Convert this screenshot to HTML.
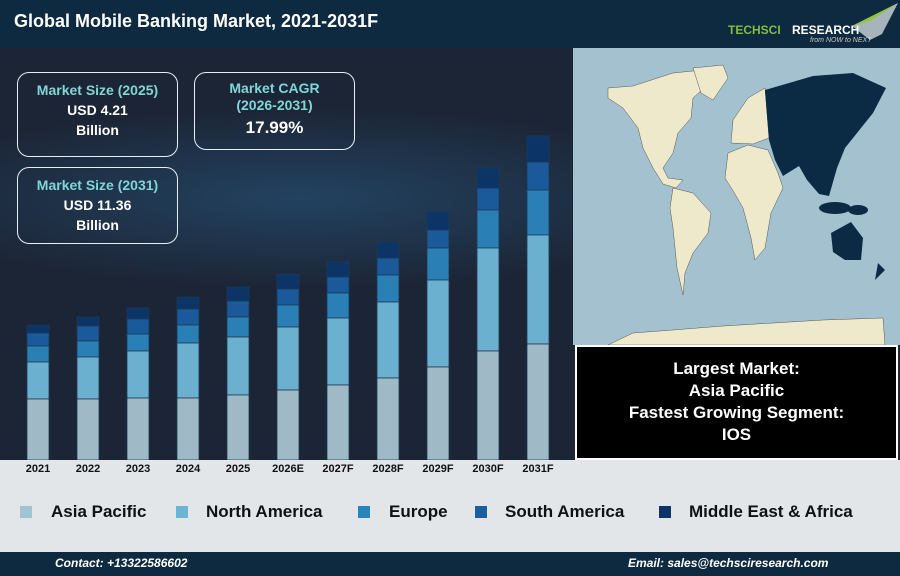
<!DOCTYPE html>
<html><head><meta charset="utf-8"><style>
*{margin:0;padding:0;box-sizing:border-box}
body{width:900px;height:576px;overflow:hidden;font-family:"Liberation Sans",sans-serif;background:#1c2536;position:relative}
.hdr{position:absolute;left:0;top:0;width:900px;height:48px;background:#0e2a40}
.title{position:absolute;left:14px;top:11px;color:#fff;font-weight:bold;font-size:18px}
.left{position:absolute;left:0;top:48px;width:572px;height:412px;background:radial-gradient(ellipse 420px 90px at 300px 150px,rgba(40,90,130,.55),rgba(28,37,54,0)),#1c2536}
.box{position:absolute;border:1.5px solid #e8eef2;border-radius:12px;text-align:center;font-weight:bold;color:#fff;font-size:14px;line-height:20px}
.box .t{color:#7fd6d8;font-size:14px}
.legend{position:absolute;left:0;top:460px;width:900px;height:92px;background:#e2e6e8}
.li{position:absolute;top:502px;font-weight:bold;font-size:17px;color:#111}
.sw{position:absolute;top:506px;width:12px;height:12px}
.foot{position:absolute;left:0;top:552px;width:900px;height:24px;background:#0e2a40;color:#fff;font-style:italic;font-weight:bold;font-size:12px}
.info{position:absolute;left:575px;top:345px;width:323px;height:115px;background:#000;border:2px solid #fff;color:#fff;text-align:center;font-weight:bold;font-size:17px;line-height:22px;padding-top:11px}
</style></head><body>
<div class="hdr"><div class="title">Global Mobile Banking Market, 2021-2031F</div>
<svg style="position:absolute;left:720px;top:0" width="180" height="48">
<polygon points="132,26 178,3 162,34 150,40" fill="#a8b4bc"/><polygon points="130,27 178,3 152,20" fill="#8fc63f"/>
<text x="8" y="34" font-family="Liberation Sans" font-weight="bold" font-size="12" fill="#7fbf3f">TECHSCI</text>
<text x="72" y="34" font-family="Liberation Sans" font-weight="bold" font-size="12" fill="#fff">RESEARCH</text>
<text x="90" y="42" font-family="Liberation Sans" font-style="italic" font-size="7" fill="#ccc">from NOW to NEXT</text></svg></div>
<div class="left"></div>
<div class="box" style="left:17px;top:72px;width:161px;height:85px;padding-top:7px"><div class="t">Market Size (2025)</div>USD 4.21<br>Billion</div>
<div class="box" style="left:194px;top:72px;width:161px;height:78px;padding-top:7px;line-height:17px"><div class="t">Market CAGR<br>(2026-2031)</div><div style="font-size:17px;margin-top:5px">17.99%</div></div>
<div class="box" style="left:17px;top:167px;width:161px;height:77px;padding-top:7px"><div class="t">Market Size (2031)</div>USD 11.36<br>Billion</div>
<svg style="position:absolute;left:0;top:0" width="572" height="476" id="b2"></svg>
<svg style="position:absolute;left:573px;top:48px" width="327" height="297">
<rect width="327" height="297" fill="#a3c1cf"/>
<g fill="#efe9cc" stroke="#555" stroke-width="0.5">
<polygon points="35,40 60,38 100,25 130,22 140,32 120,50 118,70 105,85 100,105 90,120 95,130 110,132 103,140 90,136 80,120 70,100 65,80 50,60 35,50"/>
<polygon points="120,20 150,17 155,30 140,52 128,45"/>
<polygon points="100,140 120,145 138,165 135,185 120,205 112,225 110,247 104,220 100,180 97,160"/>
<polygon points="158,95 160,72 175,50 192,40 196,90 180,96"/>
<polygon points="155,105 175,97 195,102 205,125 210,140 198,165 192,200 182,212 178,190 170,160 162,146 152,130"/>
<polygon points="35,297 60,285 100,282 150,278 200,275 250,272 310,270 312,297"/>
</g>
<g fill="#0b2b45">
<polygon points="192,42 240,28 280,25 313,40 300,65 288,80 272,100 264,120 256,148 246,146 234,132 226,118 210,128 202,112 196,92"/>
<polygon points="258,185 278,174 290,190 288,212 272,212 260,204"/>
<ellipse cx="262" cy="160" rx="16" ry="6"/><ellipse cx="285" cy="162" rx="10" ry="5"/><polygon points="305,215 312,222 302,232"/>
</g></svg>
<div class="info">Largest Market:<br>Asia Pacific<br>Fastest Growing Segment:<br>IOS</div>
<div class="legend"></div>
<svg style="position:absolute;left:0;top:460px" width="572" height="16">
<g font-family="Liberation Sans" font-weight="bold" font-size="11" fill="#111" text-anchor="middle">
<text x="38" y="12">2021</text><text x="88" y="12">2022</text><text x="138" y="12">2023</text><text x="188" y="12">2024</text><text x="238" y="12">2025</text><text x="288" y="12">2026E</text><text x="338" y="12">2027F</text><text x="388" y="12">2028F</text><text x="438" y="12">2029F</text><text x="488" y="12">2030F</text><text x="538" y="12">2031F</text></g></svg>
<div class="sw" style="left:20px;background:#9fc3d3"></div><div class="li" style="left:51px">Asia Pacific</div>
<div class="sw" style="left:176px;background:#6cb4d6"></div><div class="li" style="left:206px">North America</div>
<div class="sw" style="left:358px;background:#2a84bc"></div><div class="li" style="left:389px">Europe</div>
<div class="sw" style="left:475px;background:#1a5fa2"></div><div class="li" style="left:505px">South America</div>
<div class="sw" style="left:659px;background:#0c3466"></div><div class="li" style="left:689px">Middle East &amp; Africa</div>
<div class="foot"><span style="position:absolute;left:55px;top:4px">Contact: +13322586602</span><span style="position:absolute;left:628px;top:4px">Email: sales@techsciresearch.com</span></div>
<script>
var d=[[325,333,346,362,399],[317,326,341,357,399],[308,319,334,351,398],[297,309,325,343,398],[287,301,317,337,395],[274,289,305,327,390],[262,277,293,318,385],[242,258,275,302,378],[212,230,248,280,367],[168,188,210,248,351],[136,162,190,235,344]];
var c=["#0c3466","#1a5a9a","#2a7fb4","#6cb0d0","#9fb9c6"];var s="";
d.forEach(function(b,i){var x=27+50*i;for(var k=0;k<5;k++){var y=b[k],y2=k<4?b[k+1]:460;s+='<rect x="'+x+'" y="'+y+'" width="22" height="'+(y2-y)+'" fill="'+c[k]+'" stroke="#1c3a55" stroke-width="0.8"/>';}});
document.getElementById("b2").innerHTML=s;
</script>
</body></html>
